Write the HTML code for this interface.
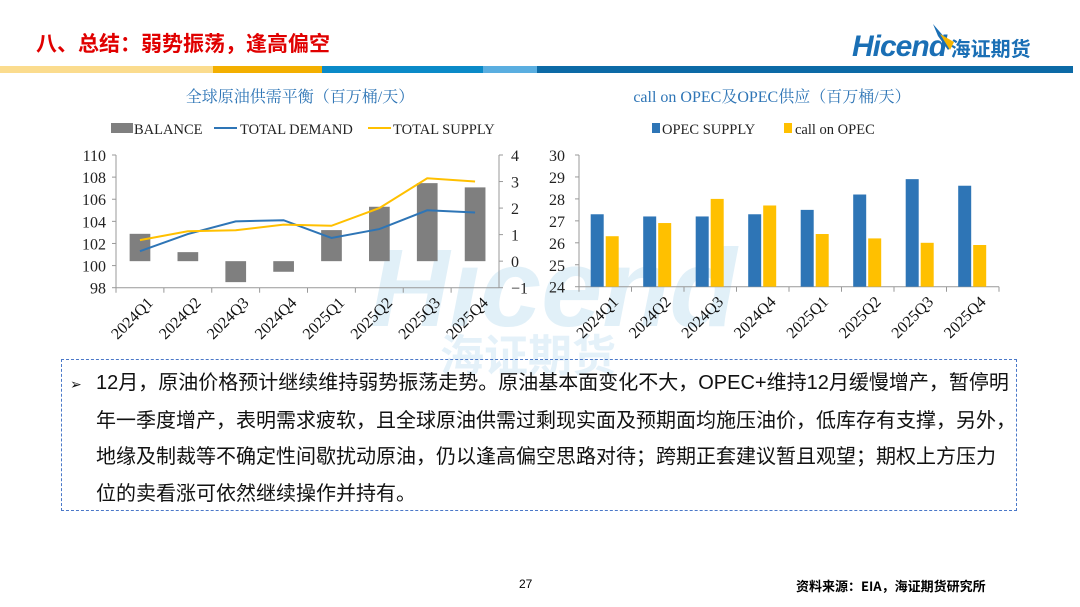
<!DOCTYPE html>
<html><head><meta charset="utf-8"><style>
body{margin:0;width:1080px;height:607px;background:#fff;position:relative;overflow:hidden;font-family:"Liberation Sans","Noto Sans CJK SC",sans-serif}
.abs{position:absolute}
</style></head><body>
<div class="abs" style="left:36px;top:28px;font-size:21px;font-weight:bold;color:#e00000;font-family:'Noto Sans CJK SC',sans-serif">八、总结：弱势振荡，逢高偏空</div>
<div class="abs" style="left:852px;top:30px;font-size:30px;font-weight:bold;font-style:italic;color:#1a6fb5;letter-spacing:-1px">Hicend<span style="font-size:20px;font-style:normal;letter-spacing:0;font-family:'Noto Sans CJK SC',sans-serif">&nbsp;海证期货</span></div>
<svg class="abs" style="left:930px;top:22px" width="30" height="30"><polygon points="3,2 22,24 18,28 8,14" fill="#1a6fb5"/><polygon points="10,12 24,20 20,28" fill="#f5b400"/></svg>
<div>
<div class="abs" style="left:0;top:66px;width:213px;height:7px;background:#fbdc8e"></div>
<div class="abs" style="left:213px;top:66px;width:109px;height:7px;background:#f3af00"></div>
<div class="abs" style="left:322px;top:66px;width:161px;height:7px;background:#0a8ac8"></div>
<div class="abs" style="left:483px;top:66px;width:54px;height:7px;background:#5aaee0"></div>
<div class="abs" style="left:537px;top:66px;width:536px;height:7px;background:#0c6aa6"></div>
</div>
<div class="abs" style="left:370px;top:225px;font-size:110px;font-weight:bold;font-style:italic;color:rgba(120,185,225,0.22)">Hicend</div>
<div class="abs" style="left:440px;top:320px;font-size:44px;font-weight:bold;color:rgba(120,185,225,0.2);font-family:'Noto Sans CJK SC',sans-serif">海证期货</div>

<svg class="abs" style="left:0;top:0" width="1080" height="360" id="charts" font-family="Liberation Serif, Noto Serif CJK SC, serif"></svg>

<div class="abs" style="left:61px;top:359px;width:954px;height:150px;border:1.5px dashed #4a78c8"></div>
<div class="abs" style="left:70px;top:365px;width:960px;font-size:20px;line-height:36.5px;color:#111;white-space:nowrap;font-family:'Liberation Sans','Noto Sans CJK SC',sans-serif">
<span style="font-size:14px;display:inline-block;width:26px">➢</span>12月，原油价格预计继续维持弱势振荡走势。原油基本面变化不大，OPEC+维持12月缓慢增产，暂停明<br>
<span style="padding-left:26px">年一季度增产，表明需求疲软，且全球原油供需过剩现实面及预期面均施压油价，低库存有支撑，另外，</span><br>
<span style="padding-left:26px">地缘及制裁等不确定性间歇扰动原油，仍以逢高偏空思路对待；跨期正套建议暂且观望；期权上方压力</span><br>
<span style="padding-left:26px">位的卖看涨可依然继续操作并持有。</span>
</div>
<div class="abs" style="left:519px;top:577px;font-size:12px">27</div>
<div class="abs" style="left:796px;top:576px;font-size:13px;font-weight:bold;font-family:'Noto Sans CJK SC',sans-serif">资料来源：EIA，海证期货研究所</div>

<script>
const cats=["2024Q1","2024Q2","2024Q3","2024Q4","2025Q1","2025Q2","2025Q3","2025Q4"];
const balance=[1.03,0.34,-0.79,-0.4,1.17,2.05,2.94,2.78];
const demand=[101.3,102.85,104.0,104.1,102.5,103.3,105.0,104.8];
const supply=[102.3,103.1,103.2,103.7,103.6,105.2,107.9,107.6];
const leftTicks=[98,100,102,104,106,108,110];
const rightTicks=[-1,0,1,2,3,4];
const opecSupply=[27.3,27.2,27.2,27.3,27.5,28.2,28.9,28.6];
const callOnOpec=[26.3,26.9,28.0,27.7,26.4,26.2,26.0,25.9];
const opecTicks=[24,25,26,27,28,29,30];

const svg=document.getElementById('charts');
const NS='http://www.w3.org/2000/svg';
function mk(tag,attrs,parent){const e=document.createElementNS(NS,tag);for(const k in attrs)e.setAttribute(k,attrs[k]);(parent||svg).appendChild(e);return e;}
function txt(x,y,s,attrs){const e=mk('text',Object.assign({x:x,y:y},attrs||{}));e.textContent=s;return e;}
function legTxt(x,s,par){const e=mk('text',{x:x,y:134,'font-size':14.5,fill:'#222'},par);e.textContent=s;}

// ===== left chart =====
const L={x0:116,x1:499,yTop:155,yBot:287.7};
const ly=v=>L.yBot-(v-98)/12*(L.yBot-L.yTop);
const ry=v=>L.yBot-(v+1)/5*(L.yBot-L.yTop);
const lslot=(L.x1-L.x0)/cats.length;
const lx=i=>L.x0+lslot*(i+0.5);
let t=txt(300,102,'全球原油供需平衡（百万桶/天）',{'text-anchor':'middle','font-size':16,fill:'#2e75b6'});


let g=mk('g',{});


mk('rect',{x:111,y:123,width:22,height:10,fill:'#7f7f7f'},g);
legTxt(134,'BALANCE',g);
mk('line',{x1:214,y1:128,x2:237,y2:128,stroke:'#2e75b6','stroke-width':2},g);legTxt(240,'TOTAL DEMAND',g);
mk('line',{x1:368,y1:128,x2:391,y2:128,stroke:'#ffc000','stroke-width':2},g);legTxt(393,'TOTAL SUPPLY',g);
mk('line',{x1:L.x0,y1:L.yTop,x2:L.x0,y2:L.yBot,stroke:'#999'});
mk('line',{x1:L.x1,y1:L.yTop,x2:L.x1,y2:L.yBot,stroke:'#999'});
mk('line',{x1:L.x0,y1:L.yBot,x2:L.x1,y2:L.yBot,stroke:'#999'});
leftTicks.forEach(v=>{mk('line',{x1:L.x0-4,y1:ly(v),x2:L.x0,y2:ly(v),stroke:'#999'});const e=txt(L.x0-10,ly(v)+6,String(v),{'text-anchor':'end','font-size':16,fill:'#222'});

});
rightTicks.forEach(v=>{mk('line',{x1:L.x1,y1:ry(v),x2:L.x1+4,y2:ry(v),stroke:'#999'});const e=txt(L.x1+12,ry(v)+6,v<0?'−'+(-v):String(v),{'font-size':16,fill:'#222'});

});
cats.forEach((c,i)=>{mk('line',{x1:L.x0+lslot*i,y1:L.yBot,x2:L.x0+lslot*i,y2:L.yBot+5,stroke:'#999'});
 const e=txt(0,0,c,{'font-size':16,fill:'#111','text-anchor':'end',transform:`translate(${lx(i)+14},${L.yBot+16}) rotate(-45)`});
 
 });
balance.forEach((v,i)=>{const y0=ry(0),y1=ry(v);const r=mk('rect',{x:lx(i)-10.3,y:Math.min(y0,y1),width:20.7,height:Math.abs(y1-y0),fill:'#7f7f7f'});

});
let p=mk('polyline',{points:demand.map((v,i)=>lx(i)+','+ly(v)).join(' '),fill:'none',stroke:'#2e75b6','stroke-width':2});


p=mk('polyline',{points:supply.map((v,i)=>lx(i)+','+ly(v)).join(' '),fill:'none',stroke:'#ffc000','stroke-width':2});



// ===== right chart =====
const R={x0:579,x1:999,yTop:155,yBot:286.7};
const oy=v=>R.yBot-(v-24)/6*(R.yBot-R.yTop);
const rslot=(R.x1-R.x0)/cats.length;
t=txt(772,102,'call on OPEC及OPEC供应（百万桶/天）',{'text-anchor':'middle','font-size':16,fill:'#2e75b6'});


g=mk('g',{});


mk('rect',{x:652,y:123,width:8,height:10,fill:'#2e75b6'},g);legTxt(662,'OPEC SUPPLY',g);
mk('rect',{x:784,y:123,width:8,height:10,fill:'#ffc000'},g);legTxt(795,'call on OPEC',g);
mk('line',{x1:R.x0,y1:R.yTop,x2:R.x0,y2:R.yBot,stroke:'#999'});
mk('line',{x1:R.x0,y1:R.yBot,x2:R.x1,y2:R.yBot,stroke:'#999'});
opecTicks.forEach(v=>{mk('line',{x1:R.x0-4,y1:oy(v),x2:R.x0,y2:oy(v),stroke:'#999'});const e=txt(R.x0-14,oy(v)+6,String(v),{'text-anchor':'end','font-size':16,fill:'#222'});

});
cats.forEach((c,i)=>{const sx=R.x0+rslot*i;mk('line',{x1:sx,y1:R.yBot,x2:sx,y2:R.yBot+5,stroke:'#999'});
 let r=mk('rect',{x:sx+11.7,y:oy(opecSupply[i]),width:13,height:R.yBot-oy(opecSupply[i]),fill:'#2e75b6'});
 
 
 r=mk('rect',{x:sx+26.7,y:oy(callOnOpec[i]),width:13,height:R.yBot-oy(callOnOpec[i]),fill:'#ffc000'});
 
 
 const e=txt(0,0,c,{'font-size':16,fill:'#111','text-anchor':'end',transform:`translate(${sx+rslot/2+14},${R.yBot+16}) rotate(-45)`});
 
 });
mk('line',{x1:R.x1,y1:R.yBot,x2:R.x1,y2:R.yBot+5,stroke:'#999'});
</script>
</body></html>
